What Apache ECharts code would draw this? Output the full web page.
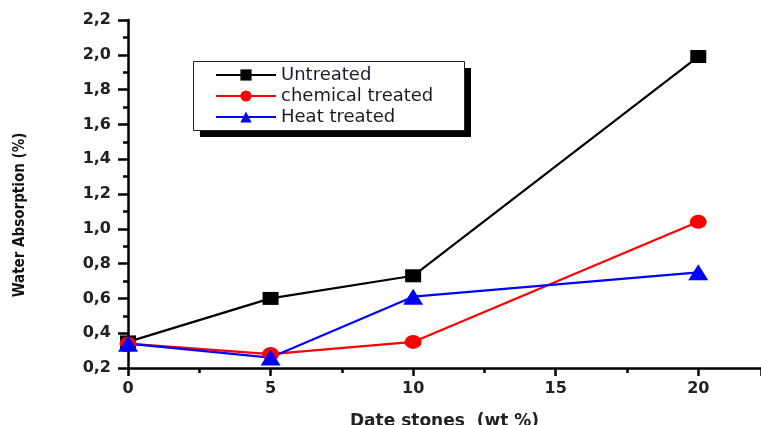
<!DOCTYPE html>
<html><head><meta charset="utf-8">
<script src="https://cdn.jsdelivr.net/npm/echarts@6/dist/echarts.min.js"></script>
<style>html,body{margin:0;padding:0;background:#fff}#c{width:761px;height:425px}</style>
</head><body><div id="c"></div>
<script>
const xValues = [0, 5, 10, 20];
const untreated = [0.35, 0.60, 0.73, 1.99];
const chemical = [0.34, 0.28, 0.35, 1.04];
const heat = [0.34, 0.26, 0.61, 0.75];
const seriesNames = ['Untreated', 'chemical treated', 'Heat treated'];

const pair = arr => xValues.map((x, i) => [x, arr[i]]);
const chart = echarts.init(document.getElementById('c'));
const axisFont = {fontFamily: 'DejaVu Sans, sans-serif', fontWeight: 'bold', fontSize: 16, color: '#222'};
chart.setOption({
  animation: false,
  backgroundColor: '#fff',
  grid: {left: 128, top: 20, right: 0, bottom: 57, outerBoundsMode: 'none', containLabel: false},
  graphic: [
    {type: 'rect', z: 3, shape: {x: 200, y: 68, width: 271, height: 69}, style: {fill: '#000'}},
    {type: 'rect', z: 3, shape: {x: 193.5, y: 61.5, width: 271, height: 69}, style: {fill: '#fff', stroke: '#222', lineWidth: 1}}
  ],
  legend: {
    orient: 'vertical', left: 215, top: 66,
    padding: 0,
    itemWidth: 60, itemHeight: 14, itemGap: 3, z: 5,
    textStyle: {fontFamily: 'DejaVu Sans, sans-serif', fontSize: 18, lineHeight: 15, color: '#1a1a2e'},
    data: seriesNames
  },
  xAxis: {
    type: 'value', min: 0, max: 22.2, interval: 5,
    name: 'Date stones  (wt %)', nameLocation: 'middle', nameGap: 45,
    nameTextStyle: {fontFamily: 'DejaVu Sans, sans-serif', fontWeight: 'bold', fontSize: 17, color: '#222'},
    axisLine: {lineStyle: {color: '#000', width: 2.5}},
    axisTick: {length: 8, lineStyle: {width: 2.5, color: '#000'}},
    minorTick: {show: true, splitNumber: 2, length: 5, lineStyle: {width: 2.5, color: '#000'}},
    axisLabel: Object.assign({margin: 13, showMaxLabel: false}, axisFont),
    splitLine: {show: false}
  },
  yAxis: {
    type: 'value', min: 0.2, max: 2.2, interval: 0.2,
    name: 'Water Absorption (%)', nameLocation: 'middle', nameGap: 100, nameRotate: 90,
    nameTextStyle: {fontFamily: 'DejaVu Sans Condensed, DejaVu Sans, sans-serif', fontWeight: 'bold', fontSize: 15, color: '#111', padding: [0, 42, 0, 0]},
    axisLine: {show: true, lineStyle: {color: '#000', width: 2.5}},
    axisTick: {length: 10, lineStyle: {width: 2.5, color: '#000'}},
    minorTick: {show: true, splitNumber: 2, length: 5, lineStyle: {width: 2.5, color: '#000'}},
    axisLabel: Object.assign({margin: 17, formatter: v => v.toFixed(1).replace('.', ',')}, axisFont),
    splitLine: {show: false}
  },
  series: [
    {name: seriesNames[0], type: 'line', data: pair(untreated), symbol: 'rect', symbolSize: [16, 13],
     color: '#000', lineStyle: {width: 2.2, color: '#000'}, itemStyle: {color: '#000'}},
    {name: seriesNames[1], type: 'line', data: pair(chemical), symbol: 'circle', symbolSize: [17, 14],
     color: '#ff0000', lineStyle: {width: 2.2, color: '#ff0000'}, itemStyle: {color: '#ff0000'}},
    {name: seriesNames[2], type: 'line', data: pair(heat), symbol: 'triangle', symbolSize: [20, 16],
     color: '#0000ff', lineStyle: {width: 2.2, color: '#0000ff'}, itemStyle: {color: '#0000ff'}}
  ]
});
</script></body></html>
